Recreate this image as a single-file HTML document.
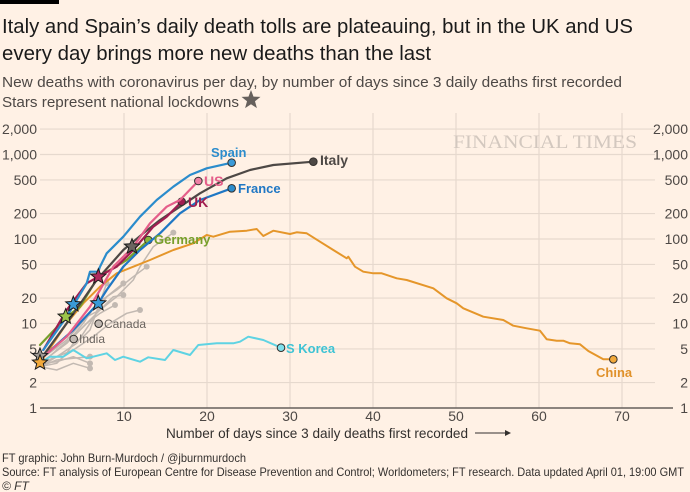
<!DOCTYPE html>
<html><head><meta charset="utf-8"><style>
html,body{margin:0;padding:0;background:#fff1e5;}
svg{display:block;font-family:"Liberation Sans",sans-serif;}
</style></head><body>
<svg id="s" width="690" height="492" viewBox="0 0 690 492" xmlns="http://www.w3.org/2000/svg">
<rect width="690" height="492" fill="#fff1e5"/>
<rect x="0" y="0" width="59" height="4" fill="#000"/>
<text x="2" y="33" font-size="20" fill="#1a1a1a" textLength="631" lengthAdjust="spacingAndGlyphs">Italy and Spain’s daily death tolls are plateauing, but in the UK and US</text>
<text x="2" y="60" font-size="20" fill="#1a1a1a" textLength="429" lengthAdjust="spacingAndGlyphs">every day brings more new deaths than the last</text>
<text x="2" y="87" font-size="15" fill="#4d4845" textLength="620" lengthAdjust="spacingAndGlyphs">New deaths with coronavirus per day, by number of days since 3 daily deaths first recorded</text>
<text x="2" y="107" font-size="15" fill="#4d4845" textLength="237" lengthAdjust="spacingAndGlyphs">Stars represent national lockdowns</text>
<polygon id="hstar" fill="#66605c" points=""/>
<g id="grid" stroke="#e6d9ce" stroke-width="1.2"></g>
<text x="545" y="148" font-family="Liberation Serif,serif" font-size="19" fill="#d3c8bf" text-anchor="middle" textLength="184" lengthAdjust="spacingAndGlyphs">FINANCIAL TIMES</text>
<g id="ylab" font-size="14" fill="#4d4845"></g>
<line x1="40" y1="408" x2="673" y2="408" stroke="#66605c" stroke-width="1.5"/>
<g id="lines" fill="none" stroke-linejoin="round" stroke-linecap="round"></g>
<g id="stars"></g>
<g font-size="13" font-weight="bold">
<text x="211" y="157" fill="#2b8ccc">Spain</text>
<text x="320" y="165" fill="#4d4845" font-size="14">Italy</text>
<text x="204" y="186" fill="#e55e8a" font-size="14">US</text>
<text x="238" y="193" fill="#1f77c4">France</text>
<text x="188" y="207" fill="#a01d50" font-size="14">UK</text>
<text x="154" y="244" fill="#779f2a">Germany</text>
<text x="286" y="353" fill="#3ec3d4">S Korea</text>
<text x="596" y="377" fill="#e0912a">China</text>
</g>
<g font-size="12" fill="#6b6560">
<text x="104" y="328">Canada</text>
<text x="79" y="343">India</text>
</g>
<text x="166" y="438" font-size="14" fill="#33302e" textLength="302" lengthAdjust="spacingAndGlyphs">Number of days since 3 daily deaths first recorded</text>
<line x1="475" y1="433" x2="505" y2="433" stroke="#33302e" stroke-width="1"/>
<polygon points="505,430 511,433 505,436" fill="#33302e"/>
<text x="2" y="462" font-size="12" fill="#33302e" textLength="244" lengthAdjust="spacingAndGlyphs">FT graphic: John Burn-Murdoch / @jburnmurdoch</text>
<text x="2" y="476" font-size="12" fill="#33302e" textLength="682" lengthAdjust="spacingAndGlyphs">Source: FT analysis of European Centre for Disease Prevention and Control; Worldometers; FT research. Data updated April 01, 19:00 GMT</text>
<text x="2" y="490" font-size="12" fill="#33302e" font-style="italic">© FT</text>
</svg>
<script>
var NS="http://www.w3.org/2000/svg";
function el(t,a,p){var e=document.createElementNS(NS,t);for(var k in a)e.setAttribute(k,a[k]);p.appendChild(e);return e;}
function starPts(cx,cy,R,r){var s=[];for(var i=0;i<10;i++){var a=-Math.PI/2+i*Math.PI/5,rr=i%2?r:R;s.push((cx+rr*Math.cos(a)).toFixed(1)+","+(cy+rr*Math.sin(a)).toFixed(1));}return s.join(" ");}
document.getElementById("hstar").setAttribute("points",starPts(251,100,10,4.2));
var g=document.getElementById("grid"),yl=document.getElementById("ylab");
function Y(v){return 408-84.5*Math.log10(v);}
[2,5,10,20,50,100,200,500,1000,2000].forEach(function(v){var y=Y(v);el("line",{x1:40,x2:655,y1:y,y2:y},g);});
for(var d=10;d<=70;d+=10){var x=41+8.3*d;el("line",{x1:x,x2:x,y1:113,y2:408},g);var t=el("text",{x:x,y:421,"text-anchor":"middle","font-size":14,fill:"#4d4845"},yl);t.textContent=d;}
[1,2,5,10,20,50,100,200,500,1000,2000].forEach(function(v){var y=Y(v)+5;var lab=v>=1000?(v/1000)+",000":""+v;
var a=el("text",{x:37,y:y,"text-anchor":"end"},yl);a.textContent=lab;var b=el("text",{x:688,y:y,"text-anchor":"end"},yl);b.textContent=lab;});
var L=document.getElementById("lines");
function conv(arr,off){var o=[];for(var i=0;i<arr.length;i+=2)o.push([arr[i]/3+(off||0),arr[i+1]/3+110]);return o;}
function line(pts,col,w){el("polyline",{points:pts.map(function(p){return p[0].toFixed(1)+","+p[1].toFixed(1)}).join(" "),stroke:col,"stroke-width":w||2},L);}
function dot(p,col){el("circle",{cx:p[0],cy:p[1],r:3.8,fill:col,stroke:"#33302e","stroke-width":1},L);}
var grey="#c2b9b2";
[[120,770,170,760,200,730,220,700,250,680,270,660,320,520],[120,760,170,740,230,700,270,640,320,560,345,540,370,520],[120,770,170,750,220,745,270,740],[120,760,170,755,220,740,270,760],[120,770,170,780,220,760,270,775],[120,765,170,720,220,680,260,640,300,610,345,585],[120,750,200,690,260,620,300,600,340,560,370,555],[120,760,200,700,250,640,290,580,320,560,350,540,400,500,440,470],[120,760,200,700,270,630,300,600,350,560,400,510,420,470,460,410,520,368],[120,770,170,740,220,720,250,700,280,680,330,640,380,610,420,600]].forEach(function(a){var p=conv(a);line(p,grey,1.5);el("circle",{cx:p[p.length-1][0],cy:p[p.length-1][1],r:3,fill:grey},L);});
dot(conv([296,641])[0],"#c2b9b2");dot(conv([221,687])[0],"#c2b9b2");
var china=conv([120,760,200,640,250,580,300,530,350,490,400,470,450,450,520,420,580,400,620,375,640,380,690,365,740,362,770,357,790,378,820,362,870,372,890,367,920,370,960,395,1000,420,1040,445]).concat(conv([25,440,45,470,70,485,100,490,125,490,170,505,200,510,280,535,320,565,350,580,370,595,430,620,490,630,520,647,560,655,600,662,620,688,650,692,670,692,690,700,720,703,745,723,790,748,820,748],340));
line(china,"#e5962a",2);dot(china[china.length-1],"#f2a93b");
var sk=conv([120,760,150,740,190,740,220,720,260,745,320,730,345,750,370,740,420,755,445,742,495,750,520,720,570,735,595,705,650,700,700,700,720,695,745,680,790,690,843,713]);
line(sk,"#5fd3e3",2);dot(sk[sk.length-1],"#7fe0ec");
var ger=conv([120,705,200,620,240,590,295,500,330,480,380,450,445,390]);line(ger,"#779f2a",2.2);dot(ger[ger.length-1],"#8db43a");
var fr=conv([130,740,220,660,295,580,320,540,370,470,420,420,480,370,540,310,600,270,695,235]);line(fr,"#1f77c4",2.2);dot(fr[fr.length-1],"#2b8ccc");
var it=conv([120,750,200,640,290,510,370,420,430,370,480,330,540,290,600,250,680,205,750,180,820,165,940,155]);line(it,"#4d4845",2.2);dot(it[it.length-1],"#4d4845");
var uk=conv([130,720,200,600,260,520,295,500,350,470,400,420,460,350,500,320,545,275]);line(uk,"#a01d50",2.2);dot(uk[uk.length-1],"#a01d50");
var us=conv([130,740,200,680,270,590,300,540,340,470,400,410,450,340,500,290,540,270,595,213]);line(us,"#e55e8a",2.2);dot(us[us.length-1],"#f07fa5");
var sp=conv([130,720,200,620,260,520,270,485,295,485,300,470,320,430,370,380,420,320,470,270,520,230,570,195,620,175,695,158]);line(sp,"#2b8ccc",2.2);dot(sp[sp.length-1],"#3a9ad8");
var S=document.getElementById("stars");
[[120,738,"#9e9893"],[120,758,"#f2a93b"],[197,620,"#9dc44a"],[220,583,"#3a9ad8"],[295,580,"#3a9ad8"],[295,500,"#b02a5e"],[396,410,"#6b6560"]].forEach(function(s){var p=conv([s[0],s[1]])[0];el("polygon",{points:starPts(p[0],p[1],8,3.5),fill:s[2],stroke:"#1a1a1a","stroke-width":1},S);});
</script>
</body></html>
